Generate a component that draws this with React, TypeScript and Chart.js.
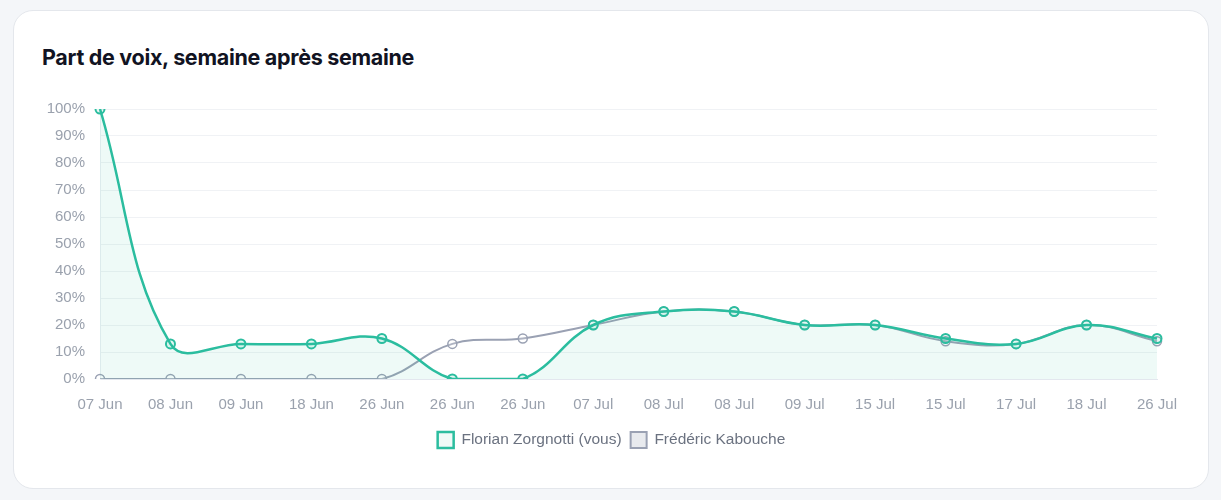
import React, { useEffect, useRef } from "react";
import { Chart, registerables } from "chart.js";

Chart.register(...registerables);

const categories = [
  "07 Jun", "08 Jun", "09 Jun", "18 Jun", "26 Jun", "26 Jun", "26 Jun", "07 Jul",
  "08 Jul", "08 Jul", "09 Jul", "15 Jul", "15 Jul", "17 Jul", "18 Jul", "26 Jul",
];
const florianValues = [100, 13, 13, 13, 15, 0, 0, 20, 25, 25, 20, 20, 15, 13, 20, 15];
const fredericValues = [0, 0, 0, 0, 0, 13, 15, 20, 25, 25, 20, 20, 14, 13, 20, 14];
const seriesNames = ["Florian Zorgnotti (vous)", "Frédéric Kabouche"];
const yTicks = [0, 10, 20, 30, 40, 50, 60, 70, 80, 90, 100];

const TEAL = "#2bbd9f";
const GRAY = "#9aa1b3";

// shifts the bottom legend so that it is centred under the whole card, as in the reference
const legendShift = {
  id: "legendShift",
  afterLayout(chart: any) {
    const lg = chart.legend;
    if (!lg) return;
    const dx = 18;
    lg.left += dx;
    lg.right += dx;
    if (lg.legendHitBoxes) lg.legendHitBoxes.forEach((h: any) => { h.left += dx; });
  },
};

export default function App() {
  const ref = useRef<HTMLCanvasElement | null>(null);

  useEffect(() => {
    if (!ref.current) return;
    const chart = new Chart(ref.current, {
      type: "line",
      data: {
        labels: categories,
        datasets: [
          {
            label: seriesNames[0],
            data: florianValues,
            borderColor: TEAL,
            backgroundColor: "rgba(43,189,159,0.08)",
            fill: "origin",
            tension: 0.4,
            borderWidth: 2.5,
            pointRadius: 4.5,
            pointBorderWidth: 2,
            pointBackgroundColor: "rgba(43,189,159,0.12)",
            pointBorderColor: TEAL,
          },
          {
            label: seriesNames[1],
            data: fredericValues,
            borderColor: GRAY,
            backgroundColor: "rgba(210,214,222,0.5)",
            fill: false,
            tension: 0.4,
            borderWidth: 2,
            pointRadius: 4.5,
            pointBorderWidth: 1.5,
            pointBackgroundColor: "rgba(255,255,255,0.2)",
            pointBorderColor: GRAY,
          },
        ],
      },
      options: {
        animation: false,
        responsive: false,
        layout: { padding: { top: 18, right: 33, left: 0, bottom: 0 } },
        font: { family: "Arial, 'Liberation Sans', sans-serif", size: 15 },
        scales: {
          x: {
            grid: { display: false, drawTicks: true, tickLength: 8 },
            border: { color: "#e3e7ee" },
            ticks: { color: "#9aa1ad", font: { size: 15 }, padding: 9, maxRotation: 0, autoSkip: false },
          },
          y: {
            min: 0,
            max: 100,
            afterFit: (s: any) => { s.width = 70; },
            afterBuildTicks: (s: any) => { s.ticks = yTicks.map((v) => ({ value: v })); },
            grid: { color: "#f0f2f5", drawTicks: true, tickLength: 12, tickColor: "rgba(0,0,0,0)" },
            border: { color: "#eceff3" },
            ticks: {
              color: "#9aa1ad",
              font: { size: 15 },
              padding: 3,
              callback: (v: any) => v + "%",
            },
          },
        },
        plugins: {
          legend: {
            position: "bottom",
            labels: {
              color: "#6b7280",
              font: { size: 15.5 },
              boxWidth: 16,
              boxHeight: 16,
              padding: 9,
            },
          },
          tooltip: { enabled: false },
        },
      },
      plugins: [legendShift],
    });
    return () => chart.destroy();
  }, []);

  return (
    <div style={{ position: "fixed", left: 0, top: 0, width: 1221, height: 500, background: "#f4f6f9" }}>
      <div
        style={{
          position: "absolute",
          left: 13,
          top: 10,
          width: 1196,
          height: 479,
          background: "#ffffff",
          border: "1px solid #e4e7ec",
          borderRadius: 20,
          boxSizing: "border-box",
        }}
      >
        <div
          style={{
            position: "absolute",
            left: 28,
            top: 33,
            fontFamily: "Inter, Lato, sans-serif",
            fontWeight: 700,
            fontSize: 21.5,
            color: "#111322",
            letterSpacing: -0.3,
          }}
        >
          Part de voix, semaine après semaine
        </div>
        <canvas
          ref={ref}
          width={1160}
          height={367}
          style={{ position: "absolute", left: 16, top: 80, width: 1160, height: 367 }}
        />
      </div>
    </div>
  );
}
